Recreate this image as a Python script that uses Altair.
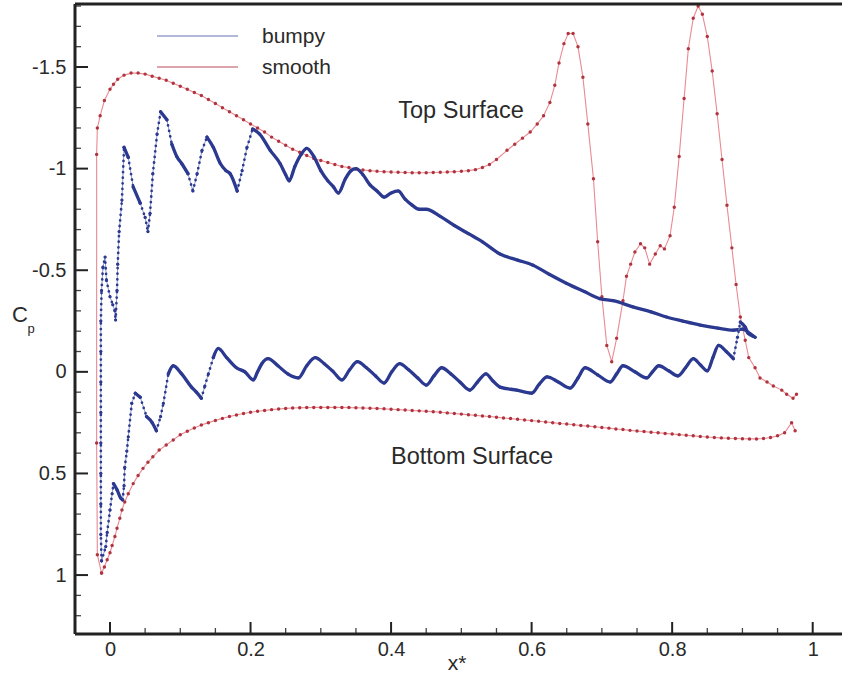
import altair as alt
import numpy as np
import pandas as pd

# Pressure coefficient along the airfoil surfaces, (x*, Cp) pairs in path order
smooth_top = [
    (-0.012, 0.99), (-0.018, 0.90), (-0.019, 0.35), (-0.019, -1.07), (-0.018, -1.20),
    (-0.014, -1.26), (-0.008, -1.335), (0.000, -1.39), (0.005, -1.415), (0.011, -1.44),
    (0.020, -1.46), (0.03, -1.47), (0.04, -1.47), (0.05, -1.465), (0.06, -1.455),
    (0.07, -1.445), (0.08, -1.435), (0.09, -1.42), (0.10, -1.405), (0.11, -1.39),
    (0.12, -1.375), (0.13, -1.36), (0.14, -1.34), (0.15, -1.32), (0.16, -1.30),
    (0.17, -1.28), (0.18, -1.26), (0.19, -1.24), (0.20, -1.22), (0.21, -1.20),
    (0.22, -1.18), (0.23, -1.155), (0.24, -1.135), (0.25, -1.115), (0.26, -1.095),
    (0.27, -1.08), (0.28, -1.065), (0.29, -1.05), (0.30, -1.04), (0.31, -1.03),
    (0.32, -1.02), (0.33, -1.01), (0.34, -1.005), (0.35, -0.998), (0.36, -0.993),
    (0.37, -0.99), (0.38, -0.987), (0.39, -0.985), (0.40, -0.983), (0.41, -0.982),
    (0.42, -0.981), (0.43, -0.98), (0.44, -0.98), (0.45, -0.98), (0.46, -0.981),
    (0.47, -0.982), (0.48, -0.983), (0.49, -0.985), (0.50, -0.987), (0.51, -0.99),
    (0.52, -0.995), (0.53, -1.005), (0.54, -1.02), (0.55, -1.045), (0.565, -1.09),
    (0.576, -1.12), (0.587, -1.15), (0.598, -1.18), (0.608, -1.22), (0.617, -1.26),
    (0.626, -1.325), (0.633, -1.41), (0.639, -1.52), (0.646, -1.615), (0.652, -1.665),
    (0.659, -1.665), (0.666, -1.60), (0.673, -1.45), (0.680, -1.22), (0.688, -0.95),
    (0.694, -0.64), (0.700, -0.37), (0.707, -0.13), (0.714, -0.05), (0.721, -0.165),
    (0.730, -0.35), (0.735, -0.47), (0.741, -0.53), (0.747, -0.59), (0.755, -0.63),
    (0.761, -0.61), (0.768, -0.53), (0.776, -0.58), (0.783, -0.62), (0.789, -0.605),
    (0.797, -0.67), (0.803, -0.81), (0.810, -1.06), (0.817, -1.345), (0.823, -1.59),
    (0.830, -1.74), (0.837, -1.80), (0.843, -1.76), (0.850, -1.65), (0.857, -1.48),
    (0.864, -1.27), (0.871, -1.045), (0.878, -0.82), (0.885, -0.61), (0.891, -0.43),
    (0.897, -0.27), (0.904, -0.155), (0.909, -0.07), (0.918, -0.02), (0.925, 0.03),
    (0.935, 0.05), (0.944, 0.07), (0.956, 0.09), (0.963, 0.11), (0.972, 0.13),
    (0.977, 0.11),
]

smooth_bottom = [
    (-0.012, 0.99), (-0.008, 0.96), (-0.004, 0.925), (0.000, 0.89), (0.003, 0.855),
    (0.007, 0.81), (0.010, 0.77), (0.014, 0.72), (0.017, 0.68), (0.021, 0.64),
    (0.026, 0.60), (0.033, 0.55), (0.040, 0.51), (0.047, 0.475), (0.054, 0.445),
    (0.061, 0.418), (0.07, 0.385), (0.08, 0.36), (0.09, 0.335), (0.10, 0.31),
    (0.11, 0.292), (0.12, 0.276), (0.13, 0.262), (0.14, 0.25), (0.15, 0.239),
    (0.16, 0.229), (0.17, 0.22), (0.18, 0.212), (0.19, 0.205), (0.20, 0.199),
    (0.21, 0.194), (0.22, 0.19), (0.23, 0.186), (0.24, 0.183), (0.25, 0.18),
    (0.26, 0.178), (0.27, 0.177), (0.28, 0.176), (0.29, 0.175), (0.30, 0.175),
    (0.31, 0.175), (0.32, 0.175), (0.33, 0.175), (0.34, 0.176), (0.35, 0.177),
    (0.36, 0.178), (0.37, 0.179), (0.38, 0.18), (0.39, 0.182), (0.40, 0.184),
    (0.41, 0.186), (0.42, 0.188), (0.43, 0.19), (0.44, 0.192), (0.45, 0.194),
    (0.46, 0.196), (0.47, 0.199), (0.48, 0.202), (0.49, 0.205), (0.50, 0.208),
    (0.51, 0.211), (0.52, 0.214), (0.53, 0.217), (0.54, 0.22), (0.55, 0.223),
    (0.56, 0.227), (0.57, 0.23), (0.58, 0.233), (0.59, 0.237), (0.60, 0.24),
    (0.61, 0.243), (0.62, 0.247), (0.63, 0.25), (0.64, 0.254), (0.65, 0.257),
    (0.66, 0.26), (0.67, 0.264), (0.68, 0.267), (0.69, 0.27), (0.70, 0.274),
    (0.71, 0.277), (0.72, 0.281), (0.73, 0.284), (0.74, 0.288), (0.75, 0.291),
    (0.76, 0.294), (0.77, 0.297), (0.78, 0.30), (0.79, 0.303), (0.80, 0.306),
    (0.81, 0.309), (0.82, 0.312), (0.83, 0.315), (0.84, 0.318), (0.85, 0.321),
    (0.86, 0.323), (0.87, 0.325), (0.88, 0.327), (0.89, 0.328), (0.90, 0.329),
    (0.91, 0.33), (0.92, 0.33), (0.93, 0.328), (0.94, 0.323), (0.95, 0.315),
    (0.96, 0.30), (0.97, 0.25), (0.975, 0.29),
]

bumpy_top = [
    (-0.012, 0.93), (-0.013, 0.80), (-0.013, 0.65), (-0.013, 0.50), (-0.013, 0.35),
    (-0.013, 0.20), (-0.013, 0.05), (-0.013, -0.10), (-0.013, -0.25), (-0.012, -0.40),
    (-0.010, -0.515), (-0.007, -0.565), (-0.005, -0.45), (0.000, -0.37), (0.004, -0.33),
    (0.007, -0.30), (0.008, -0.255), (0.010, -0.40), (0.011, -0.53), (0.013, -0.69),
    (0.017, -0.845), (0.020, -1.105), (0.026, -1.055), (0.033, -0.91), (0.043, -0.83),
    (0.050, -0.76), (0.054, -0.69), (0.057, -0.78), (0.061, -0.975), (0.067, -1.17),
    (0.072, -1.28), (0.081, -1.24), (0.088, -1.12), (0.095, -1.06), (0.102, -1.025),
    (0.111, -0.975), (0.118, -0.89), (0.124, -0.975), (0.131, -1.09), (0.138, -1.155),
    (0.147, -1.105), (0.157, -1.025), (0.165, -0.99), (0.171, -0.975), (0.181, -0.89),
    (0.188, -0.99), (0.195, -1.105), (0.203, -1.195), (0.213, -1.17), (0.228, -1.09),
    (0.242, -1.025), (0.250, -0.97), (0.255, -0.94), (0.263, -1.01), (0.272, -1.07),
    (0.280, -1.10), (0.290, -1.06), (0.300, -0.99), (0.310, -0.94), (0.318, -0.91),
    (0.325, -0.88), (0.335, -0.95), (0.343, -0.99), (0.350, -1.00), (0.360, -0.97),
    (0.370, -0.92), (0.380, -0.89), (0.390, -0.86), (0.400, -0.88), (0.410, -0.89),
    (0.420, -0.85), (0.430, -0.82), (0.440, -0.80), (0.450, -0.80), (0.470, -0.765),
    (0.490, -0.72), (0.510, -0.68), (0.530, -0.64), (0.555, -0.58), (0.580, -0.55),
    (0.602, -0.525), (0.625, -0.48), (0.650, -0.435), (0.675, -0.395), (0.697, -0.36),
    (0.716, -0.35), (0.744, -0.32), (0.770, -0.295), (0.792, -0.27), (0.815, -0.25),
    (0.840, -0.23), (0.865, -0.215), (0.887, -0.205), (0.900, -0.21), (0.910, -0.19),
    (0.918, -0.17),
]

bumpy_bottom = [
    (-0.012, 0.93), (-0.006, 0.86), (-0.004, 0.79), (0.000, 0.68), (0.003, 0.60),
    (0.005, 0.55), (0.010, 0.58), (0.015, 0.62), (0.018, 0.63), (0.020, 0.56),
    (0.021, 0.47), (0.024, 0.39), (0.026, 0.32), (0.031, 0.155), (0.036, 0.105),
    (0.043, 0.125), (0.052, 0.22), (0.060, 0.25), (0.066, 0.29), (0.072, 0.22),
    (0.076, 0.155), (0.083, 0.01), (0.090, -0.03), (0.102, 0.01), (0.116, 0.075),
    (0.123, 0.10), (0.130, 0.13), (0.135, 0.07), (0.140, 0.01), (0.147, -0.07),
    (0.154, -0.115), (0.166, -0.07), (0.180, -0.02), (0.192, 0.0), (0.204, 0.04),
    (0.210, 0.0), (0.216, -0.04), (0.225, -0.065), (0.239, -0.03), (0.253, 0.01),
    (0.268, 0.03), (0.280, -0.03), (0.292, -0.07), (0.305, -0.04), (0.318, 0.0),
    (0.330, 0.04), (0.341, -0.01), (0.352, -0.05), (0.365, -0.02), (0.378, 0.02),
    (0.390, 0.055), (0.401, 0.0), (0.412, -0.04), (0.425, -0.01), (0.438, 0.03),
    (0.450, 0.065), (0.461, 0.02), (0.472, -0.02), (0.485, 0.01), (0.498, 0.05),
    (0.512, 0.09), (0.523, 0.05), (0.535, 0.01), (0.545, 0.045), (0.555, 0.075),
    (0.579, 0.09), (0.600, 0.105), (0.611, 0.06), (0.622, 0.025), (0.638, 0.05),
    (0.655, 0.08), (0.666, 0.03), (0.676, -0.02), (0.694, 0.015), (0.712, 0.05),
    (0.721, 0.01), (0.730, -0.03), (0.747, 0.0), (0.764, 0.03), (0.772, 0.0),
    (0.781, -0.03), (0.795, -0.005), (0.808, 0.02), (0.819, -0.02), (0.830, -0.065),
    (0.840, -0.035), (0.850, -0.005), (0.858, -0.07), (0.866, -0.13), (0.877, -0.10),
    (0.887, -0.065), (0.893, -0.17), (0.897, -0.245), (0.904, -0.22), (0.908, -0.19),
    (0.915, -0.175),
]

# Axis tick positions
x_major = [0, 0.2, 0.4, 0.6, 0.8, 1]
x_minor = [0.05, 0.1, 0.15, 0.25, 0.3, 0.35, 0.45, 0.5, 0.55, 0.65, 0.7, 0.75, 0.85, 0.9, 0.95]
y_major = [-1.5, -1, -0.5, 0, 0.5, 1]
y_minor = [-1.8, -1.7, -1.6, -1.4, -1.3, -1.2, -1.1, -0.9, -0.8, -0.7, -0.6, -0.4, -0.3,
           -0.2, -0.1, 0.1, 0.2, 0.3, 0.4, 0.6, 0.7, 0.8, 0.9, 1.1, 1.2]

legend_labels = ["bumpy", "smooth"]

# ---- layout -------------------------------------------------------------
W, H = 767, 630
X_DOM = [-0.0498, -0.0498 + W / 702.7]
Y_DOM = [-1.81, 1.29]
PX = W / (X_DOM[1] - X_DOM[0])
PY = H / (Y_DOM[1] - Y_DOM[0])

FONT = "Liberation Sans"
TXT = "#2a2a2a"
BLUE = "#2b3990"
BLUE_LIGHT = "#8f98cf"
RED_DOT = "#b0343f"
RED_LINE = "#ea8a92"

xscale = alt.Scale(domain=X_DOM, nice=False, zero=False)
yscale = alt.Scale(domain=Y_DOM, nice=False, zero=False, reverse=True)
xaxis = alt.Axis(values=x_major, labelExpr="'' + datum.value", ticks=False, domain=False,
                 grid=False, title=None, labelFont=FONT, labelFontSize=20, labelColor=TXT,
                 labelPadding=5, labelFlush=False)
yaxis = alt.Axis(values=y_major, labelExpr="'' + datum.value", ticks=False, domain=False,
                 grid=False, title=None, labelFont=FONT, labelFontSize=20, labelColor=TXT,
                 labelPadding=9, labelFlush=False)

X = alt.X("x:Q", scale=xscale, axis=xaxis)
Y = alt.Y("cp:Q", scale=yscale, axis=yaxis)


def frame(pairs):
    return pd.DataFrame({"x": [p[0] for p in pairs],
                         "cp": [p[1] for p in pairs],
                         "i": list(range(len(pairs)))})


def steep_flags(d):
    dxp = np.abs(np.diff(d.x.values)) * PX
    dyp = np.abs(np.diff(d.cp.values)) * PY
    return dyp > 2.6 * dxp


def steep_segments(d):
    f = steep_flags(d)
    s = pd.DataFrame({"x": d.x.values[:-1], "cp": d.cp.values[:-1],
                      "x2": d.x.values[1:], "cp2": d.cp.values[1:]})
    return s[f]


def shallow_runs(d):
    # consecutive gently sloped segments joined into runs for a smooth heavy line
    f = steep_flags(d)
    rows, run, prev = [], 0, False
    for k, st in enumerate(f):
        if not st:
            if not prev:
                run += 1
                rows.append((d.x[k], d.cp[k], k, run))
            rows.append((d.x[k + 1], d.cp[k + 1], k + 1, run))
        prev = not st
    return pd.DataFrame(rows, columns=["x", "cp", "i", "run"])


layers = []

# smooth surface: thin line with dot markers
for pairs in (smooth_top, smooth_bottom):
    d = frame(pairs)
    layers.append(alt.Chart(d).mark_line(color=RED_LINE, strokeWidth=1.1, clip=True)
                  .encode(x=X, y=Y, order="i:Q"))
    layers.append(alt.Chart(d).mark_circle(color=RED_DOT, size=12, opacity=1, clip=True)
                  .encode(x=X, y=Y))

# bumpy surface: dense parts read as a heavy line, steep parts as dotted
for pairs in (bumpy_top, bumpy_bottom):
    d = frame(pairs)
    layers.append(alt.Chart(d).mark_line(color=BLUE_LIGHT, strokeWidth=1, clip=True)
                  .encode(x=X, y=Y, order="i:Q"))
    layers.append(alt.Chart(shallow_runs(d))
                  .mark_line(color=BLUE, strokeWidth=3.3, strokeCap="round",
                             strokeJoin="round", interpolate="monotone", clip=True)
                  .encode(x=X, y=Y, detail="run:N", order="i:Q"))
    layers.append(alt.Chart(steep_segments(d))
                  .mark_rule(color=BLUE, strokeWidth=2.7, strokeCap="round",
                             strokeDash=[0.1, 5.5], clip=True)
                  .encode(x=X, y=Y, x2=alt.X2("x2:Q"), y2=alt.Y2("cp2:Q")))
    layers.append(alt.Chart(d).mark_circle(color=BLUE, size=10, opacity=1, clip=True)
                  .encode(x=X, y=Y))

# inward ticks
layers.append(alt.Chart(pd.DataFrame({"x": x_major})).mark_rule(color="#222", strokeWidth=2)
              .encode(x=X, y=alt.value(H), y2=alt.value(H - 12)))
layers.append(alt.Chart(pd.DataFrame({"x": x_minor})).mark_rule(color="#444", strokeWidth=1.3)
              .encode(x=X, y=alt.value(H), y2=alt.value(H - 6)))
layers.append(alt.Chart(pd.DataFrame({"cp": y_major})).mark_rule(color="#222", strokeWidth=2)
              .encode(y=Y, x=alt.value(0), x2=alt.value(13)))
layers.append(alt.Chart(pd.DataFrame({"cp": y_minor})).mark_rule(color="#444", strokeWidth=1.3)
              .encode(y=Y, x=alt.value(0), x2=alt.value(6)))

one = pd.DataFrame({"k": [0]})

# plot frame (left, bottom, top)
layers.append(alt.Chart(one).mark_rule(color="#222", strokeWidth=3)
              .encode(x=alt.value(0), x2=alt.value(0), y=alt.value(0), y2=alt.value(H)))
layers.append(alt.Chart(one).mark_rule(color="#222", strokeWidth=3)
              .encode(x=alt.value(0), x2=alt.value(W), y=alt.value(H), y2=alt.value(H)))
layers.append(alt.Chart(one).mark_rule(color="#222", strokeWidth=3)
              .encode(x=alt.value(0), x2=alt.value(W), y=alt.value(0), y2=alt.value(0)))

# legend
layers.append(alt.Chart(one).mark_rule(color="#b3b8da", strokeWidth=2)
              .encode(x=alt.value(82), x2=alt.value(163), y=alt.value(32), y2=alt.value(32)))
layers.append(alt.Chart(one).mark_rule(color="#dca4ad", strokeWidth=2)
              .encode(x=alt.value(82), x2=alt.value(163), y=alt.value(63), y2=alt.value(63)))
for label, ypos in zip(legend_labels, (33, 64)):
    layers.append(alt.Chart(one).mark_text(text=label, font=FONT, fontSize=21, color=TXT,
                                           align="left", baseline="middle")
                  .encode(x=alt.value(187), y=alt.value(ypos)))

# annotations and axis titles
notes = [("Top Surface", 386, 114, 23.5), ("Bottom Surface", 397, 460, 23.5),
         ("x*", 382, 666, 21)]
for label, xp, yp, fs in notes:
    layers.append(alt.Chart(one).mark_text(text=label, font=FONT, fontSize=fs, color=TXT,
                                           align="center", baseline="alphabetic")
                  .encode(x=alt.value(xp), y=alt.value(yp)))
layers.append(alt.Chart(one).mark_text(text="C", font=FONT, fontSize=22, color=TXT,
                                       align="center", baseline="middle")
              .encode(x=alt.value(-55), y=alt.value(311)))
layers.append(alt.Chart(one).mark_text(text="p", font=FONT, fontSize=13, color=TXT,
                                       align="center", baseline="middle")
              .encode(x=alt.value(-44), y=alt.value(325)))

chart = (
    alt.layer(*layers)
    .properties(width=W, height=H, background="white",
                padding={"left": 75, "top": 4, "right": 0, "bottom": 48},
                autosize=alt.AutoSizeParams(type="none"))
    .configure_view(stroke=None)
)

chart.save("out.html", embed_options={"renderer": "svg", "actions": False})
